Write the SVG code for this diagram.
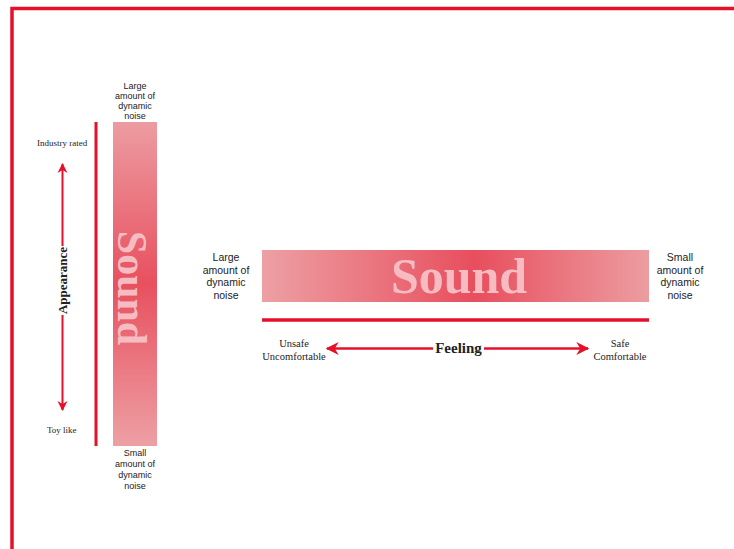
<svg xmlns="http://www.w3.org/2000/svg" width="734" height="549" viewBox="0 0 734 549">
  <style>
    .red { stroke: #e5112b; fill: none; }
    .serif { font-family: "Liberation Serif", "Times New Roman", serif; fill: #222; }
    .sans { font-family: "Liberation Sans", Arial, sans-serif; fill: #222; }
    .small { font-size: 9px; }
    .label { font-size: 10.5px; }
    .sound { font-family: "Liberation Serif", "Times New Roman", serif; font-weight: bold; fill: #f6bcc2; }
  </style>
  <defs>
    <linearGradient id="gradV" x1="0" y1="0" x2="0" y2="1">
      <stop offset="0" stop-color="#ec9ca1"/>
      <stop offset="0.5" stop-color="#e8505f"/>
      <stop offset="1" stop-color="#eda0a4"/>
    </linearGradient>
    <linearGradient id="gradH" x1="0" y1="0" x2="1" y2="0">
      <stop offset="0" stop-color="#eda0a4"/>
      <stop offset="0.55" stop-color="#e84e5e"/>
      <stop offset="1" stop-color="#ec9da1"/>
    </linearGradient>
    <marker id="headS" viewBox="0 0 10 10" refX="9" refY="5" markerWidth="10" markerHeight="12" markerUnits="userSpaceOnUse" orient="auto-start-reverse">
      <path d="M0,0 L10,5 L0,10 L3,5 Z" fill="#e5112b"/>
    </marker>
    <marker id="headL" viewBox="0 0 10 10" refX="9" refY="5" markerWidth="14" markerHeight="13" markerUnits="userSpaceOnUse" orient="auto-start-reverse">
      <path d="M0,0 L10,5 L0,10 L3,5 Z" fill="#e5112b"/>
    </marker>
  </defs>

  <rect width="734" height="549" fill="#ffffff"/>

  <!-- outer frame -->
  <path class="red" d="M12,549 V8.5 H734" stroke-width="3.5"/>

  <!-- vertical sound bar -->
  <g id="sound-vertical">
    <rect x="113" y="122" width="44" height="324" fill="url(#gradV)"/>
    <text class="sound" font-size="42" text-anchor="middle" transform="translate(118,288) rotate(90)">Sound</text>
  </g>

  <!-- horizontal sound bar -->
  <g id="sound-horizontal">
    <rect x="262" y="250" width="387" height="52" fill="url(#gradH)"/>
    <text class="sound" font-size="50" text-anchor="middle" x="459" y="293">Sound</text>
  </g>

  <!-- labels around the vertical bar -->
  <g id="vertical-top-label" class="sans small" text-anchor="middle">
    <text x="135" y="88.5">Large</text>
    <text x="135" y="98.5">amount of</text>
    <text x="135" y="109">dynamic</text>
    <text x="135" y="119">noise</text>
  </g>
  <g id="vertical-bottom-label" class="sans small" text-anchor="middle">
    <text x="135" y="456">Small</text>
    <text x="135" y="467">amount of</text>
    <text x="135" y="478">dynamic</text>
    <text x="135" y="489">noise</text>
  </g>

  <!-- labels around the horizontal bar -->
  <g id="horizontal-left-label" class="sans label" text-anchor="middle">
    <text x="226" y="261">Large</text>
    <text x="226" y="273.5">amount of</text>
    <text x="226" y="286">dynamic</text>
    <text x="226" y="298.5">noise</text>
  </g>
  <g id="horizontal-right-label" class="sans label" text-anchor="middle">
    <text x="680" y="261">Small</text>
    <text x="680" y="273.5">amount of</text>
    <text x="680" y="286">dynamic</text>
    <text x="680" y="298.5">noise</text>
  </g>

  <!-- appearance scale ends -->
  <g id="industry-rated"><text class="serif small" x="37" y="146">Industry rated</text></g>
  <g id="toy-like"><text class="serif small" x="47" y="433">Toy like</text></g>

  <!-- feeling scale ends -->
  <g id="unsafe" class="serif label" text-anchor="middle">
    <text x="294" y="346.5">Unsafe</text>
    <text x="294" y="360">Uncomfortable</text>
  </g>
  <g id="safe" class="serif label" text-anchor="middle">
    <text x="620" y="346.5">Safe</text>
    <text x="620" y="360">Comfortable</text>
  </g>

  <!-- connectors -->
  <g id="connectors">
    <line class="red" x1="96" y1="122" x2="96" y2="446" stroke-width="3"/>
    <line class="red" x1="262" y1="320" x2="649" y2="320" stroke-width="3.5"/>
    <line class="red" x1="62.5" y1="164" x2="62.5" y2="410" stroke-width="2" marker-start="url(#headS)" marker-end="url(#headS)"/>
    <line class="red" x1="327" y1="348.5" x2="588" y2="348.5" stroke-width="2.5" marker-start="url(#headL)" marker-end="url(#headL)"/>
  </g>

  <!-- axis titles on white plates over the arrows -->
  <g id="appearance">
    <rect x="56" y="246" width="14" height="69" fill="#ffffff"/>
    <text class="serif" font-size="13" font-weight="bold" text-anchor="middle" transform="translate(66.5,280.5) rotate(-90)">Appearance</text>
  </g>
  <g id="feeling">
    <rect x="433" y="340" width="51" height="17" fill="#ffffff"/>
    <text class="serif" font-size="15" font-weight="bold" text-anchor="middle" x="458.5" y="352.5">Feeling</text>
  </g>
</svg>
